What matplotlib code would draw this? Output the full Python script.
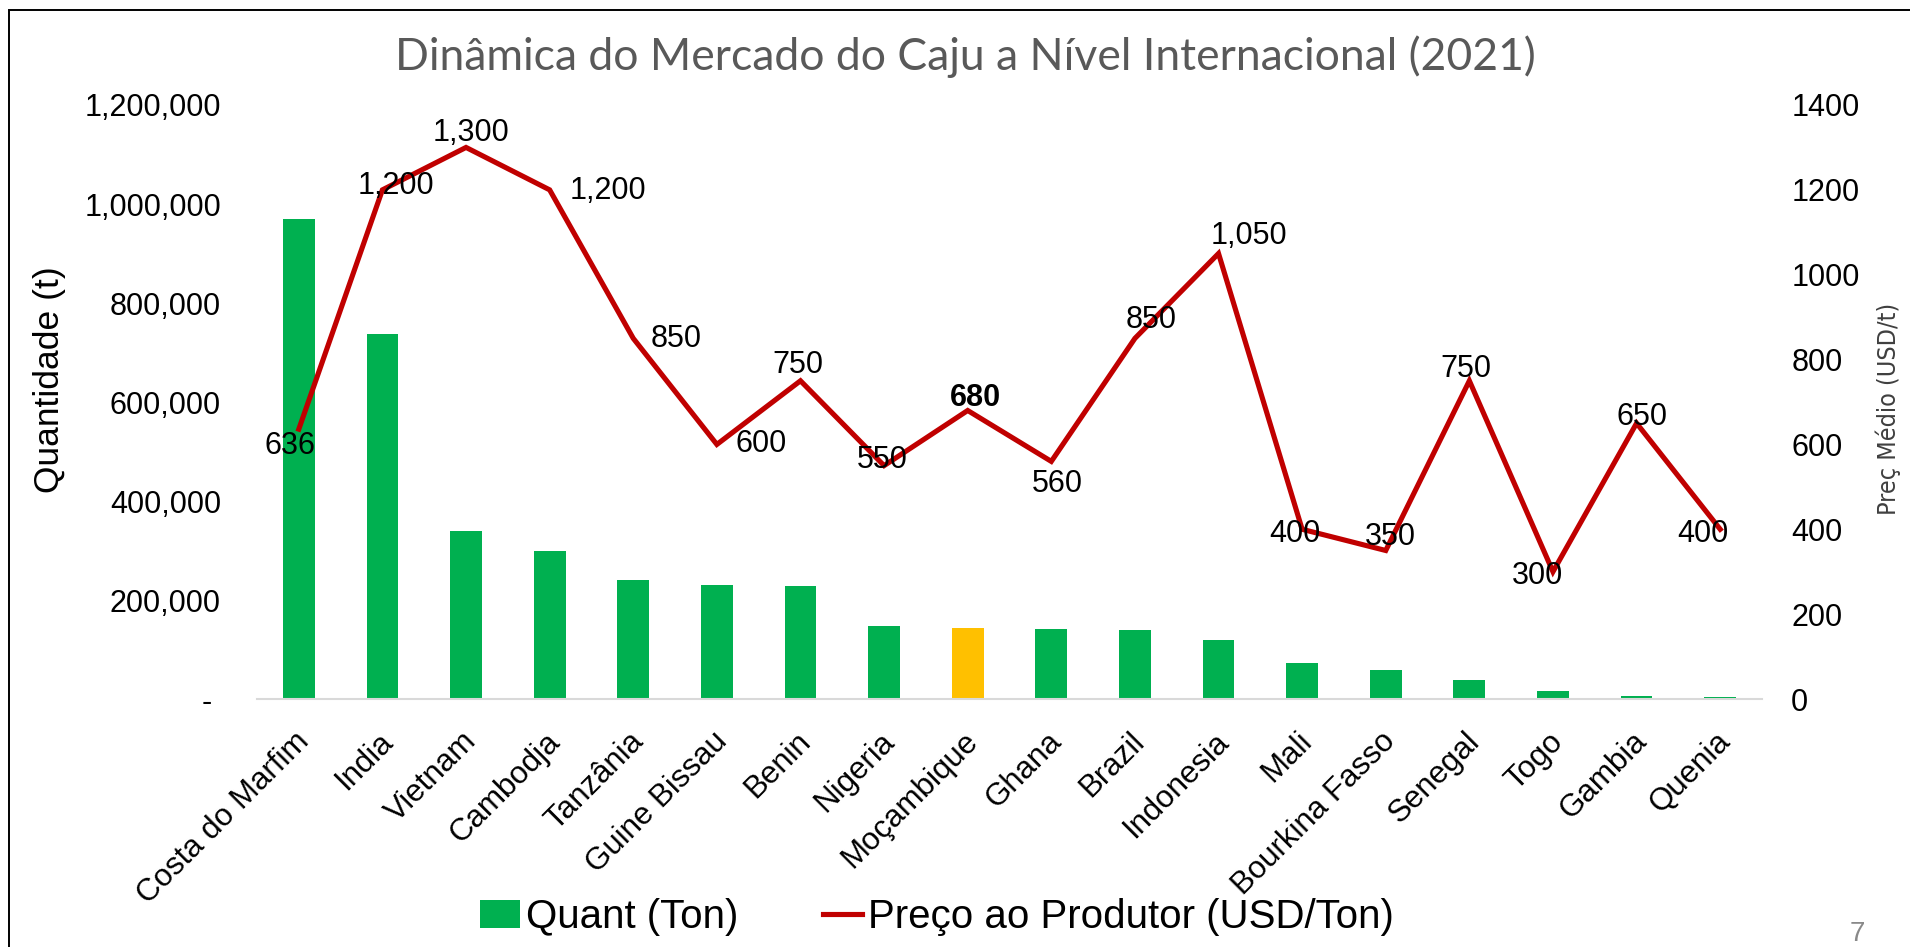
import matplotlib
matplotlib.use("Agg")
import matplotlib.pyplot as plt
from matplotlib import font_manager as fm
from matplotlib.patches import Rectangle, Patch
from matplotlib.lines import Line2D
from matplotlib.ticker import FuncFormatter, FixedLocator
from matplotlib.transforms import ScaledTranslation

# ---------------- data ----------------
countries = ["Costa do Marfim", "India", "Vietnam", "Cambodja", "Tanzânia",
             "Guine Bissau", "Benin", "Nigeria", "Moçambique", "Ghana", "Brazil",
             "Indonesia", "Mali", "Bourkina Fasso", "Senegal", "Togo", "Gambia", "Quenia"]
quant_ton = [970000, 738000, 340000, 300000, 240000, 230000, 228000, 148000, 143000,
             141000, 139000, 119000, 73000, 58000, 38000, 16000, 5500, 4000]
price_usd = [636, 1200, 1300, 1200, 850, 600, 750, 550, 680, 560, 850, 1050,
             400, 350, 750, 300, 650, 400]
highlight = "Moçambique"

left_ticks = [0, 200000, 400000, 600000, 800000, 1000000, 1200000]
right_ticks = [0, 200, 400, 600, 800, 1000, 1200, 1400]

# label offsets (pixels, x right / y down) for the price data labels
label_offsets_px = [(-9, 17), (14, -4), (5, -14), (58, 1), (43, 1), (44, 0), (-3, -16),
                    (-2, -6), (8, -12), (6, 23), (16, -18), (30, -18), (-7, 5), (5, -14),
                    (-3, -12), (-16, 4), (5, -6), (-17, 5)]

# ---------------- style ----------------
W, H, DPI = 1910, 947, 100
names = {f.name for f in fm.fontManager.ttflist}
base_font = "Liberation Sans" if "Liberation Sans" in names else "DejaVu Sans"
title_font = "Lato" if "Lato" in names else base_font
cond_fonts = [f for f in fm.fontManager.ttflist if "ondensed" in str(f.stretch) or "Narrow" in f.name]
if any(f.name == "Liberation Sans Narrow" for f in cond_fonts):
    narrow_kw = dict(family="Liberation Sans Narrow", fontsize=19)
elif any(f.name == "DejaVu Sans" for f in cond_fonts):
    narrow_kw = dict(family="DejaVu Sans", fontstretch="condensed", fontsize=18)
else:
    narrow_kw = dict(family="DejaVu Sans", fontsize=16.4)
plt.rcParams["font.family"] = [base_font, "DejaVu Sans"]

GREEN = "#00B050"
YELLOW = "#FFC000"
RED = "#C00000"

fig = plt.figure(figsize=(W / DPI, H / DPI), dpi=DPI)
L, R = 257 / W, 1762 / W
B, T = 1 - 699 / H, 1 - 105 / H
ax = fig.add_axes([L, B, R - L, T - B])
ax2 = ax.twinx()

x = list(range(len(countries)))
colors = [YELLOW if c == highlight else GREEN for c in countries]
ax.bar(x, quant_ton, width=0.38, color=colors, zorder=2)
ax.set_xlim(-0.5, len(countries) - 0.5)
ax.set_ylim(0, 1200000)
ax.yaxis.set_major_locator(FixedLocator(left_ticks))
ax.yaxis.set_major_formatter(FuncFormatter(lambda v, p: "- " if v == 0 else f"{v:,.0f}"))
ax.tick_params(axis="y", length=0, pad=26, labelsize=22)
ax.set_xticks(x)
ax.set_xticklabels(countries, rotation=45, ha="right", rotation_mode="anchor", fontsize=22.5)
ax.tick_params(axis="x", length=0, pad=14)
shift = ScaledTranslation(-5 / DPI, -8 / DPI, fig.dpi_scale_trans)
for lab in ax.get_xticklabels():
    lab.set_transform(lab.get_transform() + shift)
for s in ["top", "left", "right"]:
    ax.spines[s].set_visible(False)
ax.spines["bottom"].set_color("#D9D9D9")
ax.spines["bottom"].set_linewidth(1.5)

ax2.plot(x, price_usd, color=RED, lw=3.7, zorder=3, solid_joinstyle="miter")
ax2.set_ylim(0, 1400)
ax2.yaxis.set_major_locator(FixedLocator(right_ticks))
ax2.yaxis.set_major_formatter(FuncFormatter(lambda v, p: f"{v:.0f}"))
ax2.tick_params(axis="y", length=0, pad=21, labelsize=22)
for s in ["top", "left", "right", "bottom"]:
    ax2.spines[s].set_visible(False)

px2pt = 72 / DPI
for i, (c, v) in enumerate(zip(countries, price_usd)):
    dx, dy = label_offsets_px[i]
    ax2.annotate(f"{v:,}", xy=(i, v), xytext=(dx * px2pt, -dy * px2pt),
                 textcoords="offset points", ha="center", va="center",
                 fontsize=22, fontweight="bold" if c == highlight else "normal",
                 color="black", zorder=4)

# titles and axis labels
fig.text(965 / W, 1 - 57 / H, "Dinâmica do Mercado do Caju a Nível Internacional (2021)",
         ha="center", va="center", fontsize=32, color="#595959", family=title_font)
fig.text(49 / W, 1 - 380 / H, "Quantidade (t)", rotation=90, ha="center", va="center",
         fontsize=25.5, color="black")
fig.text(1888 / W, 1 - 409 / H, "Preç Médio (USD/t)", rotation=90, ha="center", va="center",
         color="#3F3F3F", **narrow_kw)

# legend
handles = [Patch(facecolor=GREEN, edgecolor="none", label="Quant (Ton)"),
           Line2D([0], [0], color=RED, lw=3.7, label="Preço ao Produtor (USD/Ton)")]
fig.legend(handles=handles, loc="center", bbox_to_anchor=(937 / W, 1 - 917 / H), ncol=2,
           frameon=False, fontsize=29, handlelength=0.97, handletextpad=0.15,
           columnspacing=2.1, borderaxespad=0)

# page number and slide border
fig.text(1857 / W, 1 - 934 / H, "7", ha="center", va="center", fontsize=20, color="#898989")
fig.add_artist(Rectangle((9 / W, -0.1), 1.2, 1.1 - 10 / H, transform=fig.transFigure,
                         fill=False, edgecolor="black", lw=1.4))

fig.savefig("out.png", dpi=DPI)
